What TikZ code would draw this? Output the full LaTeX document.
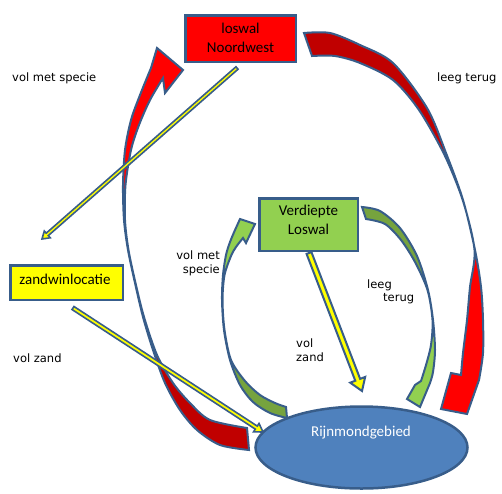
\documentclass[tikz,border=0pt]{standalone}
\usepackage{fontspec}
\setmainfont{Carlito}
\newfontfamily\lblfont{DejaVu Sans}
\usetikzlibrary{calc,shapes.geometric}
\definecolor{edge}{HTML}{385D8A}
\definecolor{brightred}{HTML}{FF0000}
\definecolor{darkred}{HTML}{C00000}
\definecolor{lightgreen}{HTML}{92D050}
\definecolor{darkgreen}{HTML}{76A33E}
\definecolor{fillblue}{HTML}{4F81BD}
\definecolor{yel}{HTML}{FFFF00}
\newcommand{\strarrow}[6]{%
  \path ($(#2)!#5!(#1)$) coordinate (hb);
  \filldraw[#6] ($(#1)!#3!90:(#2)$) -- ($(hb)!#3!90:(#2)$) -- ($(hb)!#4!90:(#2)$) -- (#2)
    -- ($(hb)!#4!-90:(#2)$) -- ($(hb)!#3!-90:(#2)$) -- ($(#1)!#3!-90:(#2)$) -- cycle;
}
\tikzset{
  boxstyle/.style={draw=edge, line width=2.5pt, inner sep=0pt},
  boxtext/.style={font=\fontsize{15}{19}\selectfont, align=center, inner sep=0pt},
  lbl/.style={font=\lblfont\fontsize{11.5}{14}\selectfont, inner sep=0pt},
  curveout/.style={draw=edge, line width=2pt},
  straw/.style={fill=yel, draw=edge, line width=1.6pt, line join=miter},
  sm/.style={smooth, tension=0.5}
}
\begin{document}
\begin{tikzpicture}[x=1pt, y=-1pt]
\useasboundingbox (0,0) rectangle (502,493);

% ellipse
\node[draw=edge, line width=2.5pt, fill=fillblue, ellipse, minimum width=212pt, minimum height=82pt, inner sep=0pt] (rijn) at (361.5,447.5) {};
\node[boxtext, text=white] (rijnt) at (361,433) {Rijnmondgebied};

% boxes
\node[boxstyle, fill=brightred, minimum width=110.5pt, minimum height=46.5pt] (loswal) at (240.5,38.5) {};
\node[boxtext] (loswalt) at (240.5,37.5) {loswal\\Noordwest};
\node[boxstyle, fill=lightgreen, minimum width=98.5pt, minimum height=52.5pt] (verd) at (308.5,224.5) {};
\node[boxtext] (verdt) at (308.5,219.5) {Verdiepte\\Loswal};
\node[boxstyle, fill=yel, minimum width=112.5pt, minimum height=34.5pt] (zand) at (66.5,282.5) {};
\node[boxtext] (zandt) at (65,279) {zandwinlocatie};

% left red curved arrow (vol met specie)
\fill[darkred] plot[sm] coordinates {(249,450) (220,445) (197,430) (180,410) (165,383) (153,350) (143,317) (135,283) (128,250) (124,220) (123,185) (125,150) (131,120) (140,95) (151,68)} -- (157,48) -- (183,70) -- (165,93) -- plot[sm] coordinates {(163,78) (150,100) (139,125) (131,150) (125.5,185) (125,220) (128.5,250) (135.5,283) (144,317) (157,355) (173,383) (190,403) (210,420) (247,428)} -- cycle;
\fill[brightred] plot[sm] coordinates {(128,250) (124,220) (123,185) (125,150) (131,120) (140,95) (151,68)} -- (157,48) -- (183,70) -- (165,93) -- plot[sm] coordinates {(163,78) (150,100) (139,125) (131,150) (125.5,185) (125,220) (128.5,250)} -- cycle;
\draw[curveout] plot[sm] coordinates {(249,450) (220,445) (197,430) (180,410) (165,383) (153,350) (143,317) (135,283) (128,250) (124,220) (123,185) (125,150) (131,120) (140,95) (151,68)} -- (157,48) -- (183,70) -- (165,93) -- plot[sm] coordinates {(163,78) (150,100) (139,125) (131,150) (125.5,185) (125,220) (128.5,250) (135.5,283) (144,317) (157,355) (173,383) (190,403) (210,420) (247,428)} -- cycle;

% right red curved arrow (leeg terug)
\fill[brightred] plot[sm] coordinates {(304,33) (330,33) (360,45) (393,63) (427,108) (446,153) (463,200) (475,250) (481,287) (483,320) (483,353) (479,380)} -- (467,414) -- (441,409) -- (451,373) -- plot[sm] coordinates {(461,375) (463,353) (467,320) (470,287) (474.5,250) (463,201) (444.5,155) (419,110) (393,80) (360,63) (335,56) (312,56)} -- cycle;
\fill[darkred] plot[sm] coordinates {(304,33) (330,33) (360,45) (393,63) (427,108) (446,153) (463,200)} -- plot[sm] coordinates {(463,201) (444.5,155) (419,110) (393,80) (360,63) (335,56) (312,56)} -- cycle;
\draw[curveout] plot[sm] coordinates {(304,33) (330,33) (360,45) (393,63) (427,108) (446,153) (463,200) (475,250) (481,287) (483,320) (483,353) (479,380)} -- (467,414) -- (441,409) -- (451,373) -- plot[sm] coordinates {(461,375) (463,353) (467,320) (470,287) (474.5,250) (463,201) (444.5,155) (419,110) (393,80) (360,63) (335,56) (312,56)} -- cycle;

% left green curved arrow
\fill[darkgreen] plot[sm] coordinates {(287,418) (270,413) (253,402) (240,385) (230,360) (224,330) (222,300) (223,275) (226,255) (230,242) (235,230)} -- (240,219) -- (255,224) -- (246,243) -- plot[sm] coordinates {(243,238) (236,247) (231,256) (224.5,275) (222.5,300) (224.5,330) (231,360) (245,381) (260,395) (275,403) (286,407)} -- cycle;
\fill[lightgreen] plot[sm] coordinates {(222,300) (223,275) (226,255) (230,242) (235,230)} -- (240,219) -- (255,224) -- (246,243) -- plot[sm] coordinates {(243,238) (236,247) (231,256) (224.5,275) (222.5,300)} -- cycle;
\draw[curveout] plot[sm] coordinates {(287,418) (270,413) (253,402) (240,385) (230,360) (224,330) (222,300) (223,275) (226,255) (230,242) (235,230)} -- (240,219) -- (255,224) -- (246,243) -- plot[sm] coordinates {(243,238) (236,247) (231,256) (224.5,275) (222.5,300) (224.5,330) (231,360) (245,381) (260,395) (275,403) (286,407)} -- cycle;

% right green curved arrow
\fill[lightgreen] plot[sm] coordinates {(362,207) (380,211) (400,228) (417,256) (428,290) (433,320) (435,350) (433,372) (430,383)} -- (420,407) -- (407,399) -- (415,385) -- plot[sm] coordinates {(421,381) (426,365) (431,345) (432.5,320) (427.5,290) (415,262) (401,240) (385,224) (366,219)} -- cycle;
\fill[darkgreen] plot[sm] coordinates {(362,207) (380,211) (400,228) (417,256) (428,290)} -- plot[sm] coordinates {(427.5,290) (415,262) (401,240) (385,224) (366,219)} -- cycle;
\draw[curveout] plot[sm] coordinates {(362,207) (380,211) (400,228) (417,256) (428,290) (433,320) (435,350) (433,372) (430,383)} -- (420,407) -- (407,399) -- (415,385) -- plot[sm] coordinates {(421,381) (426,365) (431,345) (432.5,320) (427.5,290) (415,262) (401,240) (385,224) (366,219)} -- cycle;

% straight arrows
\coordinate (a1s) at (237,68);
\coordinate (a1e) at (42,239);
\coordinate (a2s) at (73,308);
\coordinate (a2e) at (263,432);
\coordinate (a3s) at (309,253);
\coordinate (a3e) at (362,391);
\strarrow{a1s}{a1e}{1.6pt}{4.5pt}{7pt}{straw, line width=1.6pt}
\strarrow{a2s}{a2e}{1.8pt}{5pt}{8pt}{straw}
\strarrow{a3s}{a3e}{2.6pt}{8pt}{12pt}{straw, line width=2pt}

% labels
\node[lbl, anchor=west] (l1) at (12,78) {vol met specie};
\node[lbl, anchor=west] (l2) at (437,78) {leeg terug};
\node[lbl, anchor=east, align=right] (l3) at (220,263) {vol met\\specie};
\node[lbl, anchor=west] (l4) at (13,358) {vol zand};
\node[lbl, anchor=west] (l5) at (367,285) {leeg};
\node[lbl, anchor=west] (l6) at (383,299) {terug};
\node[lbl, anchor=west, align=left] (l7) at (296,350.5) {vol\\zand};
\end{tikzpicture}
\end{document}
